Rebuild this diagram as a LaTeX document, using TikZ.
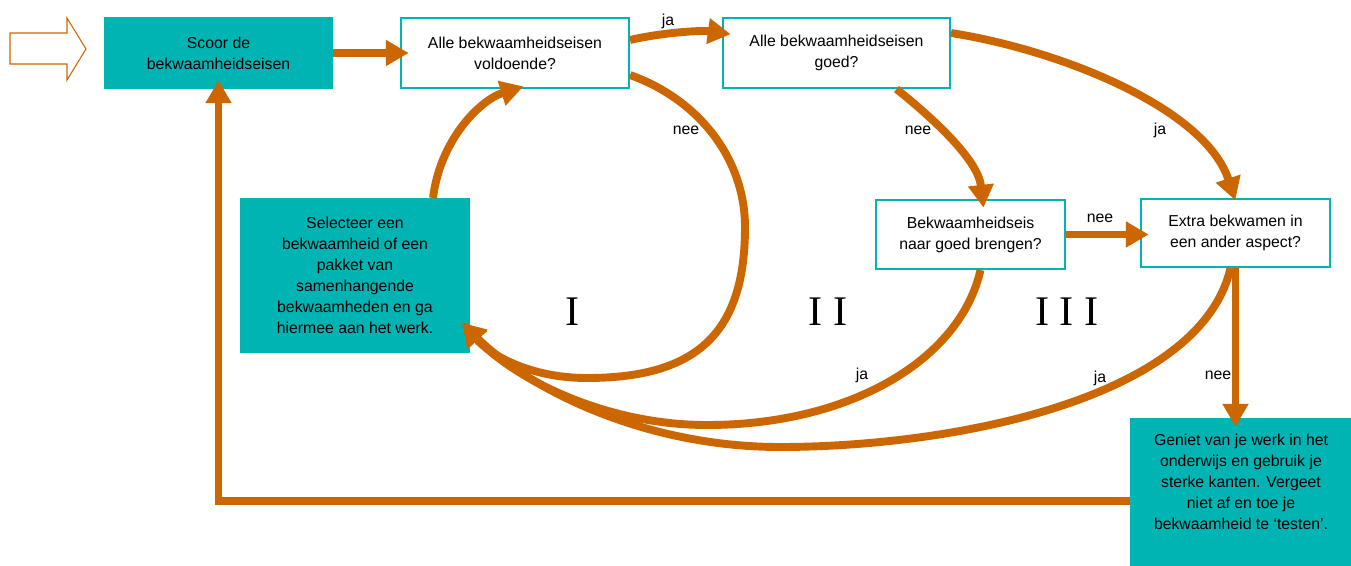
\documentclass[tikz,border=0pt]{standalone}
\usepackage{fontspec}
\setmainfont{Liberation Sans}
\newfontfamily\romfont{Liberation Serif}
\usepackage{xcolor}
\definecolor{oranje}{HTML}{CC6600}
\definecolor{turkoois}{HTML}{00B4B4}
\usetikzlibrary{arrows.meta, calc, positioning}
\tikzstyle{pijl} = [-{Triangle[length = 13pt, width = 14pt]}, line width = 4.5pt, color = oranje, shorten >= -5pt]
\tikzstyle{vak} = [draw = turkoois, line width = 1.2pt, fill = white, align = center, inner sep = 0pt, font = \fontsize{9}{12}\selectfont]
\tikzstyle{vakvol} = [vak, fill = turkoois]
\tikzstyle{tekst} = [font = \fontsize{9}{12}\selectfont, inner sep = 0pt]

\begin{document}
\begin{tikzpicture}[x = 0.02cm, y = -0.02cm, romeins/.style = {font = \romfont\fontsize{24}{26}\selectfont, inner sep = 0pt}]
    	% Kader
    	\useasboundingbox (0, 0) rectangle (1351, 565);
    	% Open pijl links
    	\draw[oranje, line width = 0.6pt] (10, 33) -- (67, 33) -- (67, 18) -- (86, 49) -- (67, 80) -- (67, 64) -- (10, 64) -- cycle;
    	% Vakken
    	\node[vakvol, minimum width = 4.54cm, minimum height = 1.4cm] (scoor) at (218.5, 53) {Scoor de\\bekwaamheidseisen};
    	\node[vak, minimum width = 4.56cm, minimum height = 1.4cm] (voldoende) at (515, 53) {Alle bekwaamheidseisen\\voldoende?};
    	\node[vak, minimum width = 4.54cm, minimum height = 1.4cm] (goed) at (836.5, 53) {Alle bekwaamheidseisen\\goed?};
    	\node[vakvol, minimum width = 4.56cm, minimum height = 3.06cm] (selecteer) at (355, 275.5) {Selecteer een\\bekwaamheid of een\\pakket van\\samenhangende\\bekwaamheden en ga\\hiermee aan het werk.};
    	\node[vak, minimum width = 3.78cm, minimum height = 1.38cm] (brengen) at (970.5, 234.5) {Bekwaamheidseis\\naar goed brengen?};
    	\node[vak, minimum width = 3.78cm, minimum height = 1.36cm] (extra) at (1235.5, 233) {Extra bekwamen in\\een ander aspect?};
    	\node[vakvol, minimum width = 4.4cm, minimum height = 2.92cm] (geniet) at (1241, 492) {Geniet van je werk in het\\onderwijs en gebruik je\\sterke kanten. Vergeet\\niet af en toe je\\bekwaamheid te ‘testen’.\\\mbox{}};
    	\coordinate (inselecteer) at ($(selecteer.south east) + (-2, -24)$);
    	% Pijlen
    	\draw[pijl] (scoor.east) -- (voldoende.west);
    	\draw[pijl] ($(voldoende.east) + (0, -13)$) .. controls (660, 33) and (700, 30) .. ($(goed.west) + (0, -20)$);
    	\draw[pijl] ($(voldoende.east) + (0, 22)$) .. controls (700, 100) and (745, 160) .. (745, 227) .. controls (745, 330) and (700, 378) .. (587, 378) .. controls (530, 378) and (490, 355) .. (inselecteer);
    	\draw[pijl] ($(selecteer.north east) + (-37, 0)$) .. controls (440, 140) and (480, 100) .. (voldoende.south);
    	\draw[pijl] ($(goed.south) + (60, 0)$) .. controls (935, 120) and (978, 160) .. ($(brengen.north) + (12, 0)$);
    	\draw[pijl] ($(goed.east) + (0, -20)$) .. controls (1060, 50) and (1205, 108) .. ($(extra.north) + (-3, -6)$);
    	\draw[pijl] (brengen.east) -- (brengen.east -| extra.west);
    	\draw[pijl] ($(brengen.south) + (10, 0)$) .. controls (960, 360) and (850, 425) .. (707, 425) .. controls (600, 425) and (510, 375) .. (inselecteer);
    	\draw[pijl] ($(extra.south) + (-5, 0)$) .. controls (1200, 400) and (950, 447) .. (780, 447) .. controls (645, 447) and (530, 390) .. (inselecteer);
    	\draw[pijl] (extra.south) -- (extra.south |- geniet.north);
    	\draw[pijl] ($(geniet.west) + (0, 9)$) -| (scoor.south);
    	% Antwoorden
    	\node[tekst] (ja1) at (668, 21) {ja};
    	\node[tekst] (nee1) at (686, 130) {nee};
    	\node[tekst] (nee2) at (918, 130) {nee};
    	\node[tekst] (ja2) at (1160, 130) {ja};
    	\node[tekst] (nee3) at (1100, 218) {nee};
    	\node[tekst] (ja3) at (862, 375) {ja};
    	\node[tekst] (ja4) at (1100, 378) {ja};
    	\node[tekst] (nee4) at (1218, 375) {nee};
    	% Fasen
    	\node[romeins] (fase1) at (573, 312) {I};
    	\node[romeins] (fase2) at (828, 312) {I I};
    	\node[romeins] (fase3) at (1067, 312) {I I I};
\end{tikzpicture}
\end{document}
